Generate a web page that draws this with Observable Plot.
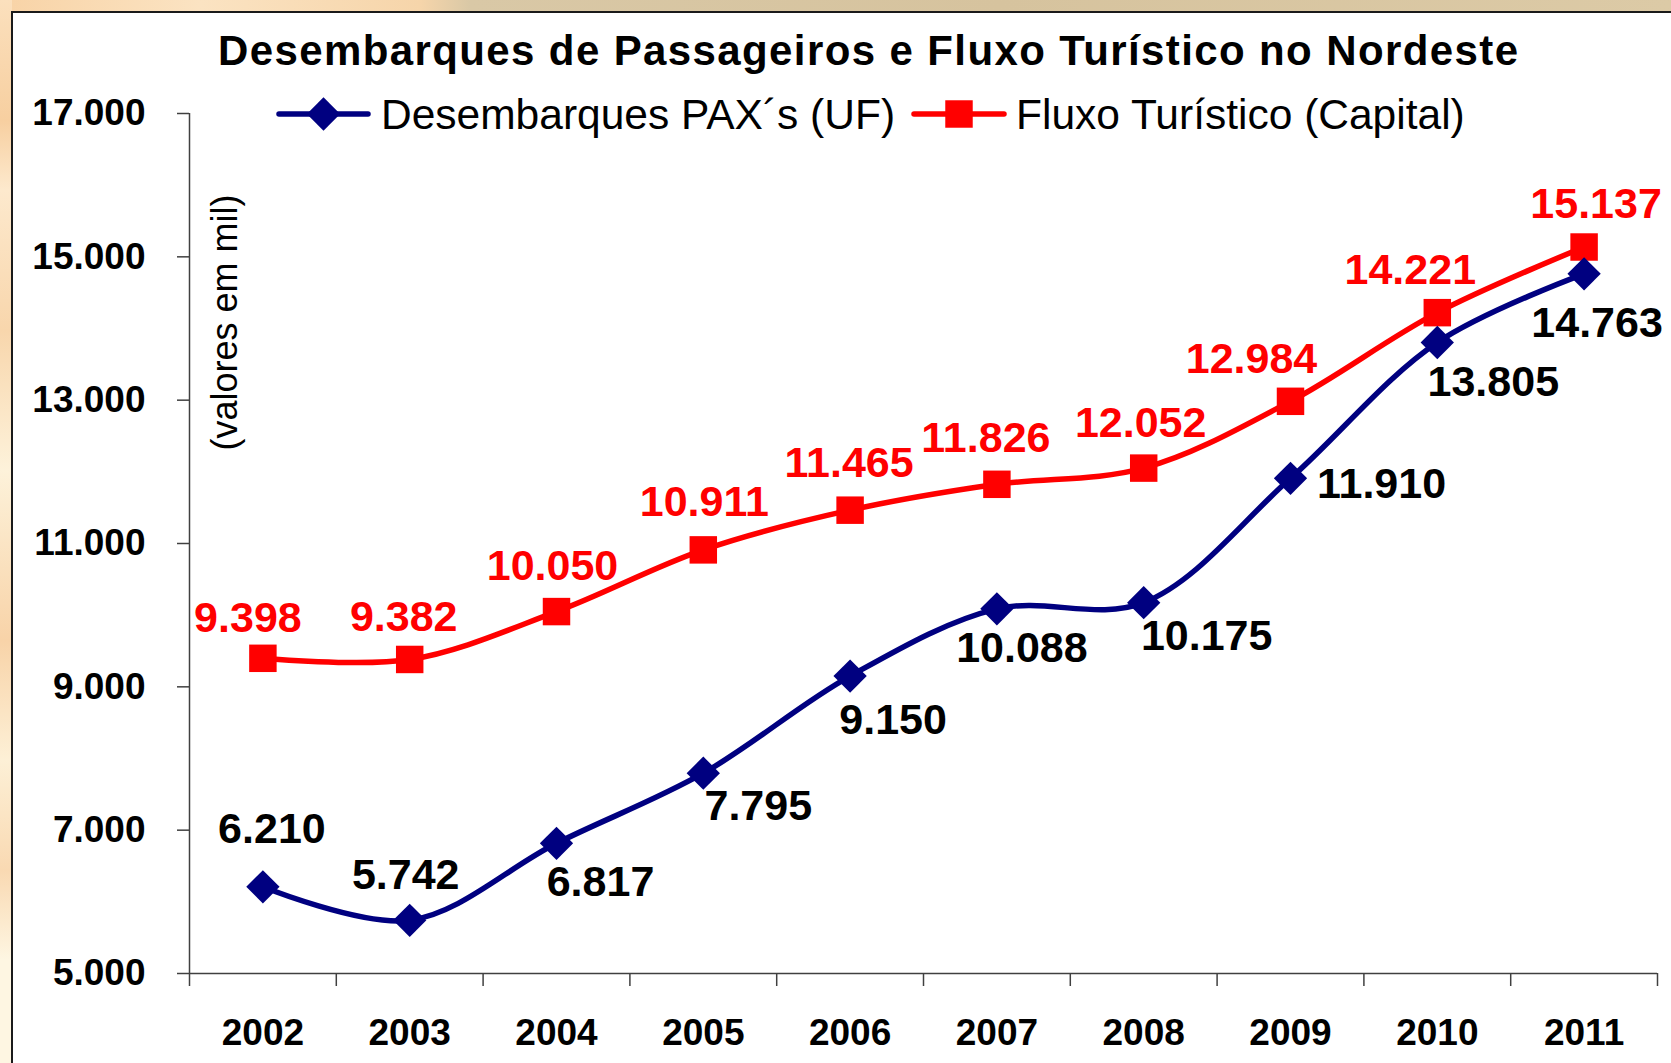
<!DOCTYPE html>
<html>
<head>
<meta charset="utf-8">
<script src="https://cdn.jsdelivr.net/npm/d3@7"></script>
<script src="https://cdn.jsdelivr.net/npm/@observablehq/plot@0.6"></script>
<style>
  html, body { margin: 0; padding: 0; }
  body {
    width: 1671px; height: 1063px; position: relative; overflow: hidden;
    font-family: "Liberation Sans", Arial, sans-serif;
    background: linear-gradient(to right, #f8d3a6 0px, #fbe3c2 200px, #f6d5aa 420px, #d9c8a6 470px, #d6c39e 1000px, #dccaa6 1671px);
  }
  #strip {
    position: absolute; left: 0; top: 0; width: 12px; height: 1063px;
    background: linear-gradient(to bottom, #fbe0bd 0px, #f7cfa0 120px, #fde9cd 190px, #f8d6ac 330px, #fdf2da 470px, #f8d3a8 640px, #fdf0d6 760px, #f9d9b2 870px, #fef6e2 960px, #fef6e2 1063px);
  }
  #panel {
    position: absolute; left: 11px; top: 11px; width: 1700px; height: 1100px;
    background: #ffffff; border-left: 2px solid #1a1a1a; border-top: 2px solid #1a1a1a;
  }
  #chart { position: absolute; left: 0; top: 0; }
  #overlay { position: absolute; left: 0; top: 0; pointer-events: none; }
</style>
</head>
<body>
<div id="strip"></div>
<div id="panel"></div>
<div id="chart"></div>
<svg id="overlay" width="1671" height="1063"></svg>
<script>
// ---- Data ----
const years = [2002, 2003, 2004, 2005, 2006, 2007, 2008, 2009, 2010, 2011];
const desembarques = [6210, 5742, 6817, 7795, 9150, 10088, 10175, 11910, 13805, 14763];
const fluxo = [9398, 9382, 10050, 10911, 11465, 11826, 12052, 12984, 14221, 15137];
const yTicks = [5000, 7000, 9000, 11000, 13000, 15000, 17000];
const seriesNames = ["Desembarques PAX\u00B4s (UF)", "Fluxo Turístico (Capital)"];
const titleText = "Desembarques de Passageiros e Fluxo Turístico no Nordeste";
const yLabelText = "(valores em mil)";

// label nudges (px) per point, layout only
const blueLabelNudge = [[9,-58],[-4,-45],[44,39],[55,33],[43,44],[25,39],[63,34],[91,6],[56,40],[13,49]];
const redLabelNudge = [[-15,-40],[-6,-42],[-4,-45],[1,-48],[-1,-47],[-11,-46],[-3,-45],[-39,-42],[-27,-42],[12,-43]];

const BLUE = "#000080", RED = "#ff0000";
const font = "Liberation Sans, Arial, sans-serif";
const fmt = d3.formatLocale({decimal: ",", thousands: ".", grouping: [3], currency: ["R$", ""]}).format(",d");

const blueData = years.map((y, i) => ({year: y, value: desembarques[i]}));
const redData = years.map((y, i) => ({year: y, value: fluxo[i]}));
const boundaries = d3.range(years.length + 1).map(i => years[0] - 0.5 + i);

const labelMarks = [];
blueData.forEach((d, i) => labelMarks.push(Plot.text([d], {
  x: "year", y: "value", text: d => fmt(d.value), dx: blueLabelNudge[i][0], dy: blueLabelNudge[i][1],
  fill: "#000", fontSize: 43, fontWeight: "bold"
})));
redData.forEach((d, i) => labelMarks.push(Plot.text([d], {
  x: "year", y: "value", text: d => fmt(d.value), dx: redLabelNudge[i][0], dy: redLabelNudge[i][1],
  fill: RED, fontSize: 43, fontWeight: "bold"
})));

const chart = Plot.plot({
  width: 1671, height: 1063,
  marginLeft: 189, marginRight: 14, marginTop: 113, marginBottom: 90,
  x: {type: "linear", domain: [boundaries[0], boundaries[boundaries.length - 1]]},
  y: {domain: [yTicks[0], yTicks[yTicks.length - 1]]},
  style: {background: "transparent", fontFamily: font, color: "#000", overflow: "visible"},
  marks: [
    Plot.axisY({ticks: yTicks, tickSize: 12, tickPadding: 32, tickFormat: fmt, label: null,
      fontSize: 37, fontWeight: "bold", stroke: "#404040", strokeWidth: 1.5, fill: "#000"}),
    Plot.axisX({ticks: boundaries, tickSize: 13, tickFormat: () => "", label: null,
      stroke: "#404040", strokeWidth: 1.5}),
    Plot.axisX({ticks: years, tickSize: 0, tickPadding: 45, tickFormat: d => String(d), label: null,
      fontSize: 37, fontWeight: "bold", fill: "#000"}),
    Plot.ruleY([yTicks[0]], {stroke: "#404040", strokeWidth: 1.5}),
    Plot.ruleX([boundaries[0]], {stroke: "#404040", strokeWidth: 1.5}),
    Plot.text([yLabelText], {frameAnchor: "top-left", textAnchor: "middle", lineAnchor: "middle",
      text: d => d, rotate: -90, dx: 36, dy: 209, fontSize: 36, fill: "#000"}),
    Plot.line(redData, {x: "year", y: "value", stroke: RED, strokeWidth: 5.5, curve: "catmull-rom"}),
    Plot.line(blueData, {x: "year", y: "value", stroke: BLUE, strokeWidth: 5.5, curve: "catmull-rom"}),
    Plot.dot(redData, {x: "year", y: "value", symbol: "square", r: 15.5, fill: RED, stroke: "none"}),
    Plot.dot(blueData, {x: "year", y: "value", symbol: "diamond2", r: 15, fill: BLUE, stroke: "none"}),
    ...labelMarks
  ]
});
document.getElementById("chart").appendChild(chart);

// ---- Title & legend overlay ----
const ov = d3.select("#overlay");
ov.append("text").attr("x", 868).attr("y", 50).attr("text-anchor", "middle").attr("dy", "0.35em")
  .attr("font-family", font).attr("font-weight", "bold").attr("font-size", 42)
  .attr("textLength", 1300).attr("lengthAdjust", "spacing").text(titleText);

const legendItems = [
  {name: seriesNames[0], color: BLUE, symbol: d3.symbolDiamond2, size: 15 * 15 * Math.PI, x0: 279, x1: 368, tx: 381},
  {name: seriesNames[1], color: RED, symbol: d3.symbolSquare, size: 15.5 * 15.5 * Math.PI, x0: 914, x1: 1004, tx: 1016}
];
const ly = 114;
legendItems.forEach(it => {
  const g = ov.append("g");
  g.append("line").attr("x1", it.x0).attr("x2", it.x1).attr("y1", ly).attr("y2", ly)
    .attr("stroke", it.color).attr("stroke-width", 5.5).attr("stroke-linecap", "round");
  g.append("path").attr("transform", `translate(${(it.x0 + it.x1) / 2},${ly})`)
    .attr("d", d3.symbol(it.symbol, it.size)()).attr("fill", it.color);
  g.append("text").attr("x", it.tx).attr("y", ly).attr("dy", "0.35em")
    .attr("font-family", font).attr("font-size", 42.5).attr("fill", "#000").text(it.name);
});
</script>
</body>
</html>
